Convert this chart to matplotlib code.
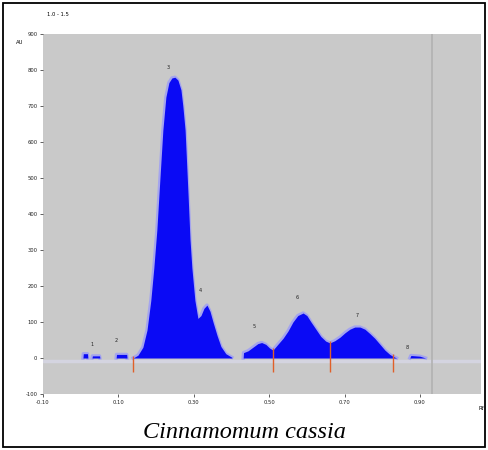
import matplotlib.pyplot as plt
import numpy as np

# densitogram track, Rf vs AU, one array pair per integrated segment
rf_seg1 = [0.139, 0.152, 0.165, 0.176, 0.186, 0.194, 0.202, 0.210, 0.218, 0.226,
           0.234, 0.242, 0.250, 0.258, 0.266, 0.271, 0.277, 0.285, 0.290, 0.295,
           0.303, 0.311, 0.319, 0.327, 0.335, 0.343, 0.351, 0.362, 0.372, 0.385, 0.401]
au_seg1 = [0, 8, 30, 78, 160, 250, 355, 495, 633, 725,
           765, 778, 780, 772, 745, 700, 633, 450, 330, 250,
           160, 110, 118, 138, 147, 130, 100, 62, 32, 12, 2]

rf_seg2 = [0.431, 0.432, 0.444, 0.457, 0.470, 0.480, 0.491, 0.501, 0.510]
au_seg2 = [0, 15, 20, 30, 40, 43, 38, 28, 22]

rf_seg3 = [0.510, 0.523, 0.537, 0.550, 0.563, 0.576, 0.590, 0.600, 0.611, 0.624,
           0.637, 0.650, 0.661]
au_seg3 = [22, 38, 55, 75, 100, 118, 125, 118, 100, 80, 60, 47, 42]

rf_seg4 = [0.661, 0.674, 0.688, 0.701, 0.714, 0.727, 0.741, 0.754, 0.767, 0.780,
           0.794, 0.807, 0.820, 0.828, 0.838]
au_seg4 = [42, 48, 58, 70, 80, 86, 86, 80, 68, 55, 38, 22, 10, 5, 0]

# small spots near start and front
rf_spots = [[0.006, 0.007, 0.018, 0.019], [0.030, 0.031, 0.050, 0.051],
            [0.094, 0.095, 0.122, 0.123], [0.873, 0.876, 0.900, 0.915]]
au_spots = [[0, 12, 12, 0], [0, 6, 6, 0], [0, 10, 10, 0], [0, 7, 5, 0]]

# integration boundaries
rf_cuts = [0.139, 0.510, 0.661, 0.828]
au_cuts = [0, 22, 42, 5]

# peak numbers
peak_no = ['1', '2', '3', '4', '5', '6', '7', '8']
peak_rf = [0.030, 0.095, 0.232, 0.317, 0.459, 0.574, 0.733, 0.866]
peak_au = [30, 42, 800, 180, 82, 160, 110, 22]

yticks = [-100, 0, 100, 200, 300, 400, 500, 600, 700, 800, 900]
xticks = [-0.10, 0.10, 0.30, 0.50, 0.70, 0.90]
front_rf = 0.932

fig = plt.figure(figsize=(4.88, 4.5), dpi=100)
ax = fig.add_axes([0.0881, 0.1244, 0.8976, 0.8000])
ax.set_facecolor('#c9c9c9')

blue = '#0a0af5'
halo = '#a4a4ee'
segs = [(rf_seg1, au_seg1), (rf_seg2, au_seg2), (rf_seg3, au_seg3), (rf_seg4, au_seg4)]
segs += list(zip(rf_spots, au_spots))
for rf, au in segs:
    ax.plot(rf, au, color=halo, lw=2.4, solid_joinstyle='round', zorder=2)
    ax.fill_between(rf, 0, au, color=blue, lw=0, zorder=3)

ax.axhline(-8, color='#d4d4e0', lw=2.5, zorder=1)
ax.axvline(front_rf, color='#b2b2b2', lw=1.2, zorder=1)

ax.vlines(rf_cuts, -40, np.array(au_cuts) + 5, color='#e0602a', lw=1.0, zorder=4)

for t, x, y in zip(peak_no, peak_rf, peak_au):
    ax.text(x, y, t, fontsize=3.5, ha='center', va='bottom', color='#202020')

ax.set_xlim(-0.10, 1.062)
ax.set_ylim(-100, 900)
ax.set_xticks(xticks)
ax.set_yticks(yticks)
ax.set_xticklabels(['%.2f' % v for v in xticks], fontsize=3.8)
ax.set_yticklabels([str(v) for v in yticks], fontsize=3.8)
ax.tick_params(length=2, width=0.5, pad=2, colors='#202020')
for s in ax.spines.values():
    s.set_visible(False)

fig.text(20 / 488, 1 - 42 / 450, 'AU', fontsize=3.8, ha='center', va='center')
fig.text(58 / 488, 1 - 14 / 450, '1.0 - 1.5', fontsize=3.8, ha='center', va='center')
fig.text(481 / 488, 1 - 408 / 450, 'Rf', fontsize=3.8, ha='center', va='center')

fig.text(0.5, 1 - 432 / 450, 'Cinnamomum cassia', fontsize=17.5, style='italic',
         family='Liberation Serif', ha='center', va='center')

# cell border
fig.patches.append(plt.Rectangle((3 / 488, 3 / 450), 482 / 488, 444 / 450,
                                 transform=fig.transFigure, fill=False,
                                 edgecolor='black', lw=1.3))

fig.savefig('out.png', dpi=100)
